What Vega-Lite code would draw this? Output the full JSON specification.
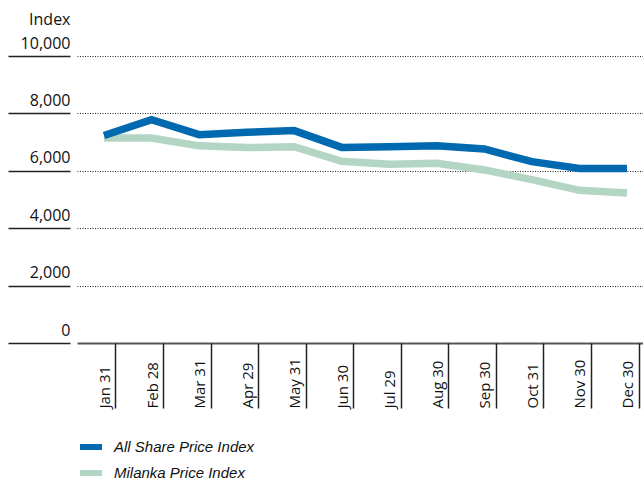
{
  "$schema": "https://vega.github.io/schema/vega-lite/v6.json",
  "autosize": {"type": "none"},
  "padding": {"left": 77, "top": 56, "right": 0, "bottom": 136},
  "width": 566,
  "height": 287,
  "background": "white",
  "config": {
    "view": {"stroke": null},
    "font": "Open Sans"
  },
  "data": {
    "values": [
      {"date": "Jan 31", "series": "All Share Price Index", "value": 7230},
      {"date": "Feb 28", "series": "All Share Price Index", "value": 7780},
      {"date": "Mar 31", "series": "All Share Price Index", "value": 7260},
      {"date": "Apr 29", "series": "All Share Price Index", "value": 7340},
      {"date": "May 31", "series": "All Share Price Index", "value": 7400},
      {"date": "Jun 30", "series": "All Share Price Index", "value": 6815},
      {"date": "Jul 29", "series": "All Share Price Index", "value": 6840},
      {"date": "Aug 30", "series": "All Share Price Index", "value": 6870},
      {"date": "Sep 30", "series": "All Share Price Index", "value": 6760},
      {"date": "Oct 31", "series": "All Share Price Index", "value": 6320},
      {"date": "Nov 30", "series": "All Share Price Index", "value": 6080},
      {"date": "Dec 30", "series": "All Share Price Index", "value": 6080},
      {"date": "Jan 31", "series": "Milanka Price Index", "value": 7140},
      {"date": "Feb 28", "series": "Milanka Price Index", "value": 7140},
      {"date": "Mar 31", "series": "Milanka Price Index", "value": 6870},
      {"date": "Apr 29", "series": "Milanka Price Index", "value": 6810},
      {"date": "May 31", "series": "Milanka Price Index", "value": 6840},
      {"date": "Jun 30", "series": "Milanka Price Index", "value": 6330},
      {"date": "Jul 29", "series": "Milanka Price Index", "value": 6230},
      {"date": "Aug 30", "series": "Milanka Price Index", "value": 6260},
      {"date": "Sep 30", "series": "Milanka Price Index", "value": 6030},
      {"date": "Oct 31", "series": "Milanka Price Index", "value": 5690},
      {"date": "Nov 30", "series": "Milanka Price Index", "value": 5320},
      {"date": "Dec 30", "series": "Milanka Price Index", "value": 5230}
    ]
  },
  "encoding": {
    "x": {
      "field": "date",
      "type": "nominal",
      "sort": null,
      "scale": {"type": "point", "padding": 0.452, "align": 0.628},
      "axis": {
        "title": null,
        "labelAngle": -90,
        "labelAlign": "left",
        "labelBaseline": "middle",
        "labelPadding": 0,
        "labelFontSize": 15,
        "labelColor": "#111",
        "tickSize": 65,
        "tickWidth": 1.5,
        "tickColor": "#222",
        "tickOffset": 11.5,
        "labelOffset": -11,
        "domain": false,
        "grid": false
      }
    },
    "y": {
      "field": "value",
      "type": "quantitative",
      "scale": {"domain": [0, 10000], "nice": false},
      "axis": {
        "values": [0, 2000, 4000, 6000, 8000, 10000],
        "format": ",.0f",
        "offset": 7,
        "domain": false,
        "tickSize": 62,
        "tickWidth": 1.5,
        "tickColor": "#222",
        "labelAlign": "right",
        "labelBaseline": "alphabetic",
        "labelPadding": -62,
        "labelOffset": -8,
        "labelFontSize": 16,
        "labelColor": "#111",
        "grid": true,
        "gridColor": {"condition": {"test": "datum.value === 0", "value": "#555"}, "value": "#222"},
        "gridWidth": {"condition": {"test": "datum.value === 0", "value": 2}, "value": 1},
        "gridDash": {"condition": {"test": "datum.value === 0", "value": []}, "value": [1, 1.5]},
        "title": "Index",
        "titleAngle": 0,
        "titleAlign": "right",
        "titleBaseline": "alphabetic",
        "titleX": 0,
        "titleY": -32,
        "titleFontSize": 16,
        "titleFontWeight": "normal",
        "titleColor": "#111"
      }
    },
    "color": {
      "field": "series",
      "type": "nominal",
      "scale": {
        "domain": ["All Share Price Index", "Milanka Price Index"],
        "range": ["#0069AF", "#B2D5C4"]
      },
      "legend": {
        "title": null,
        "orient": "none",
        "legendX": 0,
        "legendY": 377,
        "padding": 0,
        "symbolType": "stroke",
        "symbolSize": 484,
        "symbolStrokeWidth": 6,
        "labelFont": "Liberation Sans",
        "labelFontStyle": "italic",
        "labelFontSize": 15,
        "labelColor": "#111",
        "labelOffset": 9,
        "rowPadding": -1
      }
    }
  },
  "layer": [
    {
      "transform": [{"filter": "datum.series === 'Milanka Price Index'"}],
      "mark": {"type": "line", "strokeWidth": 7.5, "strokeCap": "butt", "strokeJoin": "miter"}
    },
    {
      "transform": [{"filter": "datum.series === 'All Share Price Index'"}],
      "mark": {"type": "line", "strokeWidth": 7.5, "strokeCap": "butt", "strokeJoin": "miter"}
    }
  ]
}
